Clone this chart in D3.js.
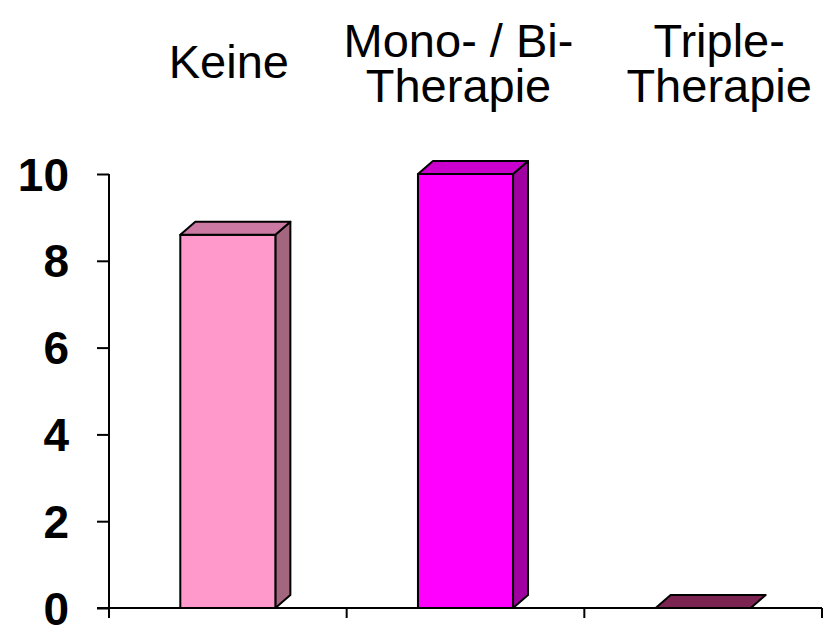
<!DOCTYPE html>
<html><head><meta charset="utf-8">
<script src="https://cdn.jsdelivr.net/npm/d3@7"></script>
<style>body{margin:0;background:#fff}svg{display:block}</style>
</head><body>
<svg id="c" width="836" height="627"></svg>
<script>
const categories = ["Keine", "Mono- / Bi-\nTherapie", "Triple-\nTherapie"];
const values = [8.6, 10, 0];
const frontColors = ["#FF99CC", "#FF00FF", "#993366"];
const topColors = ["#CC7AA3", "#CC00CC", "#7B2452"];
const sideColors = ["#A3667F", "#A000A0", "#5E1A40"];
const yTicks = [0, 2, 4, 6, 8, 10];

// layout: horizontal nudge of each header label relative to its category centre
const labelNudge = [1, -7, 16];

const svg = d3.select("#c");
const x = d3.scaleBand().domain(categories).range([109, 822]).paddingInner(0).paddingOuter(0);
const y = d3.scaleLinear().domain([0, 10]).range([608, 174]);
const dx = 15, dy = 13;
const bw = x.bandwidth() * 0.4;

// bars
categories.forEach((c, i) => {
  const cx = x(c) + x.bandwidth() / 2;
  const x0 = cx - bw / 2, x1 = cx + bw / 2;
  const y0 = y(0), y1 = y(values[i]);
  const g = svg.append("g").attr("stroke", "#000").attr("stroke-width", 2).attr("stroke-linejoin", "round");
  if (y0 - y1 > 0.5) {
    g.append("path").attr("d", `M${x1},${y1}L${x1 + dx},${y1 - dy}L${x1 + dx},${y0 - dy}L${x1},${y0}Z`).attr("fill", sideColors[i]);
    g.append("rect").attr("x", x0).attr("y", y1).attr("width", bw).attr("height", y0 - y1).attr("fill", frontColors[i]);
  }
  g.append("path").attr("d", `M${x0},${y1}L${x0 + dx},${y1 - dy}L${x1 + dx},${y1 - dy}L${x1},${y1}Z`).attr("fill", topColors[i]);
});

// y axis
const yAxis = svg.append("g").attr("transform", "translate(109,0)")
  .call(d3.axisLeft(y).tickValues(yTicks).tickSize(12).tickPadding(28).tickFormat(d3.format("d")));
yAxis.select(".domain").attr("d", `M0,${y(10)}V${y(0) + 10}`);
yAxis.selectAll("line,path").attr("stroke", "#000").attr("stroke-width", 2);
yAxis.selectAll("text").attr("font-family", "Liberation Sans, Arial, sans-serif")
  .attr("font-weight", "bold").attr("font-size", 46).attr("fill", "#000").attr("dy", "0.35em");

// x axis
const xAxis = svg.append("g").attr("transform", `translate(0,${y(0)})`);
xAxis.append("line").attr("x1", 97).attr("x2", 822).attr("y1", 0).attr("y2", 0).attr("stroke", "#000").attr("stroke-width", 2);
const bounds = categories.map(c => x(c) + x.bandwidth()).concat([x(categories[0])]);
xAxis.selectAll("line.t").data(bounds).enter().append("line").attr("class", "t")
  .attr("x1", d => d).attr("x2", d => d).attr("y1", 0).attr("y2", 10).attr("stroke", "#000").attr("stroke-width", 2);

// category labels at top
categories.forEach((c, i) => {
  const lines = c.split("\n");
  const cx = x(c) + x.bandwidth() / 2 + labelNudge[i];
  const t = svg.append("text").attr("x", cx).attr("text-anchor", "middle")
    .attr("font-family", "Liberation Sans, Arial, sans-serif").attr("font-size", 47).attr("fill", "#000");
  const baseY = lines.length === 1 ? 78 : 57;
  lines.forEach((l, j) => t.append("tspan").attr("x", cx).attr("y", baseY + j * 45).text(l));
});
</script>
</body></html>
